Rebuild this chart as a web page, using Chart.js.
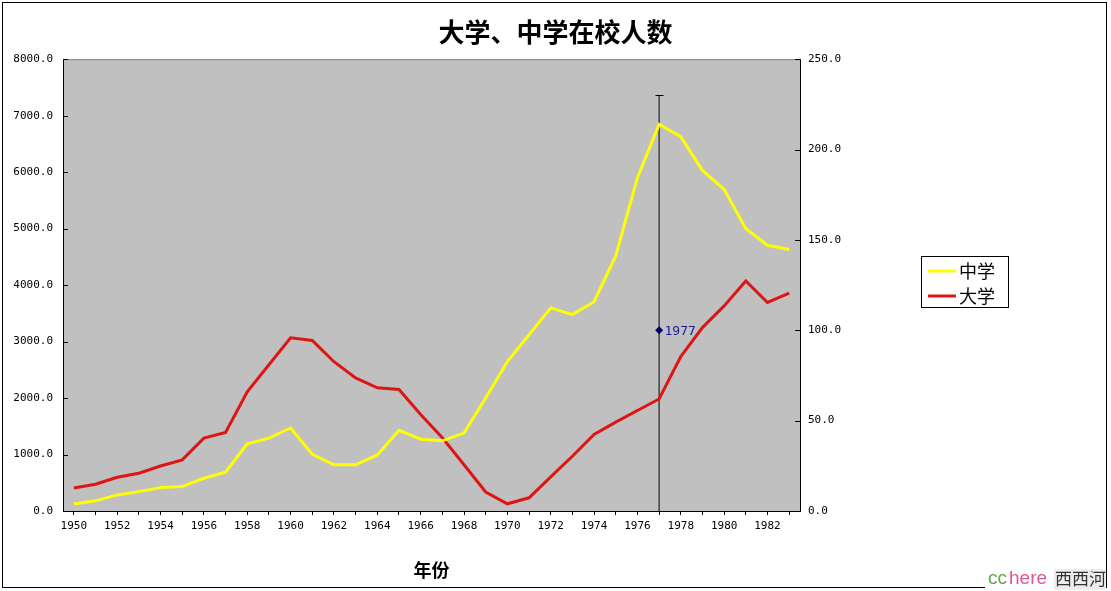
<!DOCTYPE html>
<html>
<head>
<meta charset="utf-8">
<script src="https://cdn.jsdelivr.net/npm/chart.js@4"></script>
<style>
html,body{margin:0;padding:0;background:#fff;}
#wrap{width:1111px;height:591px;position:relative;}
</style>
</head>
<body>
<div id="wrap"><canvas id="c" width="1111" height="591"></canvas></div>
<script>
// ---- data ----
const years = ['1950','1951','1952','1953','1954','1955','1956','1957','1958','1959',
               '1960','1961','1962','1963','1964','1965','1966','1967','1968','1969',
               '1970','1971','1972','1973','1974','1975','1976','1977','1978','1979',
               '1980','1981','1982','1983'];
// 中学 (left axis)
const middleSchool = [125, 180, 285, 343, 414, 432, 580, 686, 1190, 1290,
                      1470, 1005, 818, 818, 993, 1428, 1272, 1243, 1380, 2000,
                      2645, 3122, 3596, 3477, 3705, 4515, 5903, 6847, 6630, 6030,
                      5695, 5000, 4705, 4630];
// 大学 (right axis)
const university = [12.7, 14.8, 18.7, 20.9, 24.9, 28.3, 40.3, 43.5, 66.0, 80.9,
                    95.8, 94.4, 82.6, 73.6, 68.2, 67.2, 53.4, 40.5, 25.6, 10.5,
                    4.0, 7.3, 18.9, 30.3, 42.3, 49.2, 55.6, 62.0, 85.5, 101.5,
                    113.5, 127.3, 115.4, 120.6];
const seriesNames = ['中学', '大学'];
const leftTicks = [0, 1000, 2000, 3000, 4000, 5000, 6000, 7000, 8000];
const rightTicks = [0, 50, 100, 150, 200, 250];
const markerYear = '1977';
const markerValue = 100;
const markerLow = 0;
const markerHigh = 230;

const YELLOW = '#FFFF00';
const RED = '#DD1515';

const plotBg = {
  id: 'plotBg',
  beforeDraw(chart) {
    const ctx = chart.ctx;
    ctx.save();
    ctx.fillStyle = '#fff';
    ctx.fillRect(0, 0, chart.width, chart.height);
    ctx.strokeStyle = '#000';
    ctx.lineWidth = 1;
    ctx.strokeRect(2.5, 2.5, 1104, 585);
    const a = chart.chartArea;
    ctx.fillStyle = '#C0C0C0';
    ctx.fillRect(a.left, a.top, a.right - a.left, a.bottom - a.top);
    ctx.strokeStyle = '#808080';
    ctx.beginPath();
    ctx.moveTo(a.left, a.top + 0.5);
    ctx.lineTo(a.right, a.top + 0.5);
    ctx.stroke();
    ctx.restore();
  }
};

const extras = {
  id: 'extras',
  afterDatasetsDraw(chart) {
    const ctx = chart.ctx;
    const a = chart.chartArea;
    const yL = chart.scales.y, yR = chart.scales.y2, x = chart.scales.x;
    ctx.save();
    ctx.strokeStyle = '#000';
    ctx.lineWidth = 1;
    ctx.beginPath();
    leftTicks.forEach(v => {
      const py = Math.round(yL.getPixelForValue(v)) + 0.5;
      ctx.moveTo(a.left, py); ctx.lineTo(a.left + 5, py);
    });
    rightTicks.forEach(v => {
      const py = Math.round(yR.getPixelForValue(v)) + 0.5;
      ctx.moveTo(a.right, py); ctx.lineTo(a.right - 5, py);
    });
    ctx.stroke();
    const mx = Math.round(x.getPixelForValue(years.indexOf(markerYear))) + 0.5;
    const top = Math.round(yR.getPixelForValue(markerHigh)) + 0.5;
    ctx.beginPath();
    ctx.moveTo(mx - 4, top); ctx.lineTo(mx + 4, top);
    ctx.stroke();
    ctx.fillStyle = '#1A1AA0';
    ctx.font = '13px "DejaVu Sans Mono"';
    ctx.textAlign = 'left';
    ctx.textBaseline = 'middle';
    ctx.fillText(markerYear, mx + 5, yR.getPixelForValue(markerValue) + 1);

    // legend
    ctx.fillStyle = '#fff';
    ctx.fillRect(921, 256, 88, 52);
    ctx.strokeStyle = '#000';
    ctx.strokeRect(921.5, 256.5, 87, 51);
    const cols = [YELLOW, RED];
    const ys = [271, 296];
    ctx.font = '18px "Noto Sans CJK SC"';
    ctx.textBaseline = 'middle';
    seriesNames.forEach((n, i) => {
      ctx.strokeStyle = cols[i];
      ctx.lineWidth = 3;
      ctx.beginPath();
      ctx.moveTo(928, ys[i]); ctx.lineTo(956, ys[i]);
      ctx.stroke();
      ctx.fillStyle = '#000';
      ctx.fillText(n, 959, ys[i]);
    });

    // watermark
    ctx.fillStyle = '#fff';
    ctx.fillRect(985, 568, 121, 23);
    ctx.font = '19px "Liberation Sans"';
    ctx.textBaseline = 'middle';
    ctx.fillStyle = '#5FA84A';
    ctx.fillText('cc', 988, 579);
    ctx.fillStyle = '#E0569A';
    ctx.fillText('here', 1009, 579);
    ctx.fillStyle = '#EDEDED';
    ctx.fillRect(1054, 569, 52, 21);
    ctx.fillStyle = '#333';
    ctx.font = '17px "Noto Sans CJK SC"';
    ctx.fillText('西西河', 1055, 579);
    ctx.restore();
  }
};

new Chart(document.getElementById('c'), {
  type: 'line',
  data: {
    labels: years,
    datasets: [
      {
        label: seriesNames[0], data: middleSchool, yAxisID: 'y',
        borderColor: YELLOW, borderWidth: 3, pointRadius: 0, tension: 0, fill: false
      },
      {
        label: seriesNames[1], data: university, yAxisID: 'y2',
        borderColor: RED, borderWidth: 3, pointRadius: 0, tension: 0, fill: false
      },
      {
        label: 'marker line', yAxisID: 'y2',
        data: [{x: markerYear, y: markerLow}, {x: markerYear, y: markerHigh}],
        borderColor: '#000', borderWidth: 1, pointRadius: 0, fill: false
      },
      {
        label: 'marker', yAxisID: 'y2',
        data: [{x: markerYear, y: markerValue}],
        showLine: false, pointStyle: 'rectRot', pointRadius: 4,
        backgroundColor: '#000080', borderColor: '#000080', borderWidth: 0
      }
    ]
  },
  options: {
    responsive: false,
    animation: false,
    layout: { padding: 0 },
    plugins: {
      legend: { display: false },
      tooltip: { enabled: false },
      title: {
        display: true,
        text: '大学、中学在校人数',
        color: '#000',
        font: { family: '"Noto Sans CJK SC"', size: 26, weight: 'bold' },
        padding: { top: 17, bottom: 11 }
      }
    },
    scales: {
      x: {
        type: 'category',
        offset: true,
        grid: { display: true, drawOnChartArea: false, drawTicks: true, tickLength: 4, color: '#000', offset: false },
        border: { display: true, color: '#000', width: 1 },
        ticks: {
          autoSkip: false, maxRotation: 0, padding: 5, color: '#000',
          font: { family: '"DejaVu Sans Mono"', size: 11 },
          callback: (v, i) => (i % 2 === 0 ? years[i] : '')
        },
        title: {
          display: true, text: '年份', color: '#000',
          font: { family: '"Noto Sans CJK SC"', size: 18, weight: 'bold' },
          padding: { top: 0, bottom: 10 }
        },
        afterFit(s) { s.height = 80; }
      },
      y: {
        position: 'left',
        min: 0, max: 8000,
        afterBuildTicks(s) { s.ticks = leftTicks.map(v => ({ value: v })); },
        grid: { drawOnChartArea: false, drawTicks: false },
        border: { display: true, color: '#000', width: 1 },
        ticks: {
          padding: 10, color: '#000',
          font: { family: '"DejaVu Sans Mono"', size: 11 },
          callback: v => Number(v).toFixed(1)
        },
        afterFit(s) { s.width = 63; }
      },
      y2: {
        position: 'right',
        min: 0, max: 250,
        afterBuildTicks(s) { s.ticks = rightTicks.map(v => ({ value: v })); },
        grid: { drawOnChartArea: false, drawTicks: false },
        border: { display: true, color: '#000', width: 1 },
        ticks: {
          padding: 8, color: '#000',
          font: { family: '"DejaVu Sans Mono"', size: 11 },
          callback: v => Number(v).toFixed(1)
        },
        afterFit(s) { s.width = 311; }
      }
    }
  },
  plugins: [plotBg, extras]
});
</script>
</body>
</html>
